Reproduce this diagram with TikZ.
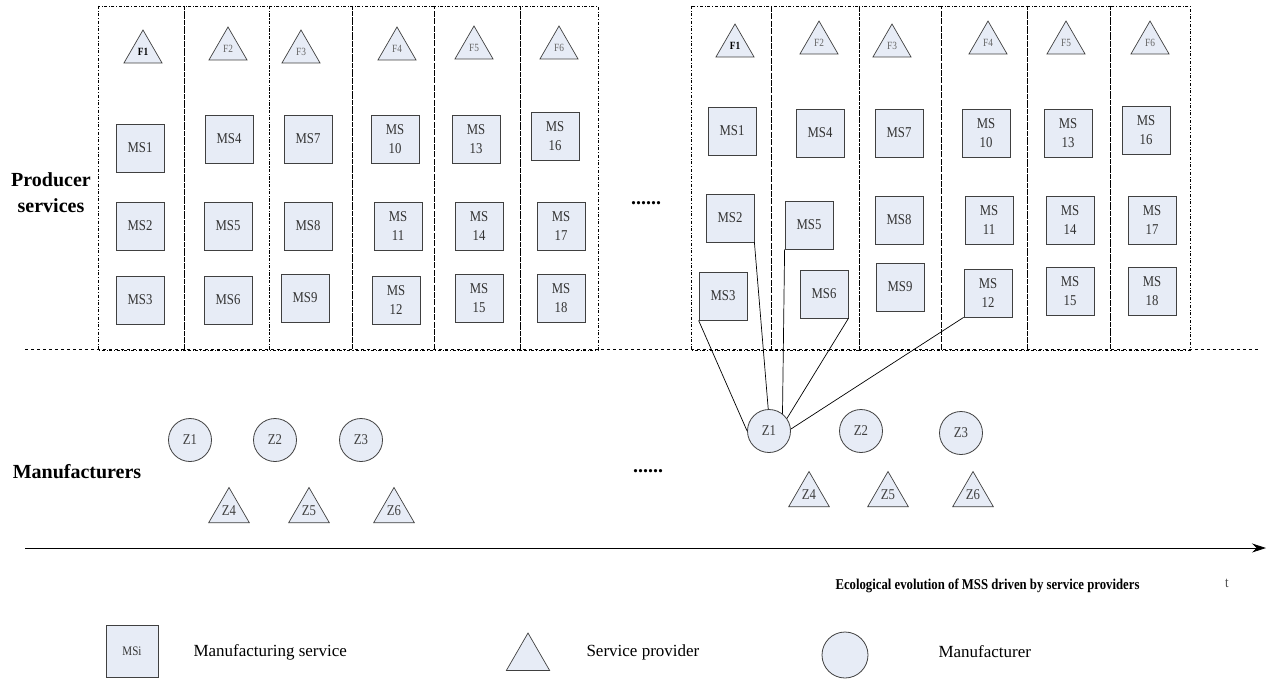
\documentclass[tikz,border=0pt]{standalone}
\usepackage{fontspec}
\setmainfont{Liberation Serif}
\newfontfamily\msfont[FakeStretch=0.85]{Liberation Serif}
\usetikzlibrary{positioning}
\usetikzlibrary{shapes.geometric}
\usetikzlibrary{arrows.meta}
\definecolor{svcfill}{RGB}{231,236,246}
\definecolor{svcdraw}{RGB}{64,64,64}
\tikzset{msbox/.style = {draw=svcdraw, fill=svcfill, line width=0.8pt, minimum size=48pt, inner sep=0pt, align=center, text=black!80, font=\msfont\fontsize{15}{19}\selectfont}}
\tikzset{prov/.style = {draw=svcdraw, fill=svcfill, line width=0.7pt, regular polygon, regular polygon sides=3, minimum size=44pt, inner sep=0pt, text=black!60, font=\msfont\fontsize{11}{12}\selectfont}}
\tikzset{zprov/.style = {prov, minimum size=47pt, text=black!75, font=\msfont\fontsize{15}{16}\selectfont}}
\tikzset{manu/.style = {draw=svcdraw, fill=svcfill, line width=0.8pt, circle, minimum size=43pt, inner sep=0pt, text=black!75, font=\msfont\fontsize{15}{16}\selectfont}}
\tikzset{colbox/.style = {dash dot, line width=0.6pt}}
\tikzset{sidelabel/.style = {align=center, font=\bfseries\fontsize{20}{26}\selectfont}}
\tikzset{legtext/.style = {anchor=west, font=\fontsize{17}{20}\selectfont}}

\begin{document}
\begin{tikzpicture}[x=1pt, y=-1pt]
  \useasboundingbox (0, 0) rectangle (1268, 682);

  \draw [colbox] (98, 6) rectangle (184, 350);
  \draw [colbox] (184, 6) rectangle (269, 350);
  \draw [colbox] (269, 6) rectangle (352, 350);
  \draw [colbox] (352, 6) rectangle (434, 350);
  \draw [colbox] (434, 6) rectangle (520, 350);
  \draw [colbox] (520, 6) rectangle (598, 350);

  \draw [colbox] (691, 6) rectangle (771, 350);
  \draw [colbox] (771, 6) rectangle (859, 350);
  \draw [colbox] (859, 6) rectangle (941, 350);
  \draw [colbox] (941, 6) rectangle (1027, 350);
  \draw [colbox] (1027, 6) rectangle (1110, 350);
  \draw [colbox] (1110, 6) rectangle (1190, 350);

  \draw [dashed, line width=0.6pt] (25, 349) -- (1258, 349);

  \node [sidelabel] (producer) at (51, 193) {Producer\\services};
  \node [sidelabel] (manufact) at (77, 472) {Manufacturers};

  % before
  \node [prov, text=black, font=\msfont\bfseries\fontsize{11}{12}\selectfont] (lf1) at (143, 52) {F1};
  \node [prov] (lf2) at (228, 49) {F2};
  \node [prov] (lf3) at (301, 52) {F3};
  \node [prov] (lf4) at (397, 49) {F4};
  \node [prov] (lf5) at (474, 48) {F5};
  \node [prov] (lf6) at (559, 48) {F6};

  \node [msbox] (lms1) at (140, 148) {MS1};
  \node [msbox] (lms2) at (140, 226) {MS2};
  \node [msbox] (lms3) at (140, 300) {MS3};
  \node [msbox] (lms4) at (229, 139) {MS4};
  \node [msbox] (lms5) at (228, 226) {MS5};
  \node [msbox] (lms6) at (228, 300) {MS6};
  \node [msbox] (lms7) at (308, 139) {MS7};
  \node [msbox] (lms8) at (308, 226) {MS8};
  \node [msbox] (lms9) at (305, 298) {MS9};
  \node [msbox] (lms10) at (395, 139) {MS\\10};
  \node [msbox] (lms11) at (398, 226) {MS\\11};
  \node [msbox] (lms12) at (396, 300) {MS\\12};
  \node [msbox] (lms13) at (476, 139) {MS\\13};
  \node [msbox] (lms14) at (479, 226) {MS\\14};
  \node [msbox] (lms15) at (479, 298) {MS\\15};
  \node [msbox] (lms16) at (555, 136) {MS\\16};
  \node [msbox] (lms17) at (561, 226) {MS\\17};
  \node [msbox] (lms18) at (561, 298) {MS\\18};

  \node [manu] (lz1) at (190, 440) {Z1};
  \node [manu] (lz2) at (275, 440) {Z2};
  \node [manu] (lz3) at (361, 440) {Z3};
  \node [zprov] (lz4) at (229, 511) {Z4};
  \node [zprov] (lz5) at (309, 511) {Z5};
  \node [zprov] (lz6) at (394, 511) {Z6};

  \node [font=\bfseries\fontsize{20}{20}\selectfont] (dotsup) at (646, 203) {......};
  \node [font=\bfseries\fontsize{20}{20}\selectfont] (dotsdown) at (648, 471) {......};

  % after
  \node [prov, text=black, font=\msfont\bfseries\fontsize{11}{12}\selectfont] (rf1) at (735, 46) {F1};
  \node [prov] (rf2) at (819, 43) {F2};
  \node [prov] (rf3) at (892, 46) {F3};
  \node [prov] (rf4) at (988, 43) {F4};
  \node [prov] (rf5) at (1066, 43) {F5};
  \node [prov] (rf6) at (1150, 43) {F6};

  \node [msbox] (rms1) at (732, 131) {MS1};
  \node [msbox] (rms2) at (730, 218) {MS2};
  \node [msbox] (rms3) at (723, 296) {MS3};
  \node [msbox] (rms4) at (820, 133) {MS4};
  \node [msbox] (rms5) at (809, 225) {MS5};
  \node [msbox] (rms6) at (824, 294) {MS6};
  \node [msbox] (rms7) at (899, 133) {MS7};
  \node [msbox] (rms8) at (899, 220) {MS8};
  \node [msbox] (rms9) at (900, 287) {MS9};
  \node [msbox] (rms10) at (986, 133) {MS\\10};
  \node [msbox] (rms11) at (989, 220) {MS\\11};
  \node [msbox] (rms12) at (988, 293) {MS\\12};
  \node [msbox] (rms13) at (1068, 133) {MS\\13};
  \node [msbox] (rms14) at (1070, 220) {MS\\14};
  \node [msbox] (rms15) at (1070, 291) {MS\\15};
  \node [msbox] (rms16) at (1146, 130) {MS\\16};
  \node [msbox] (rms17) at (1152, 220) {MS\\17};
  \node [msbox] (rms18) at (1152, 291) {MS\\18};

  \node [manu] (rz1) at (769, 431) {Z1};
  \node [manu] (rz2) at (861, 431) {Z2};
  \node [manu] (rz3) at (961, 433) {Z3};
  \node [zprov] (rz4) at (809, 495) {Z4};
  \node [zprov] (rz5) at (888, 495) {Z5};
  \node [zprov] (rz6) at (973, 495) {Z6};

  \draw [line width=0.7pt] (rms3.south west) -- (rz1.west);
  \draw [line width=0.7pt] (rms2.south east) -- (rz1.92);
  \draw [line width=0.7pt] (rms5.south west) -- (rz1.52);
  \draw [line width=0.7pt] (rms6.south east) -- (rz1.35);
  \draw [line width=0.7pt] (rms12.south west) -- (rz1.5);

  % time axis
  \coordinate (tstart) at (25, 548);
  \coordinate (tend) at (1266, 548);
  \draw [line width=0.8pt, -{Stealth[length=14pt, width=9pt]}] (tstart) -- (tend);
  \node [anchor=east, font=\msfont\bfseries\fontsize{15}{18}\selectfont] (evol) at (1143, 586) {Ecological evolution of MSS driven by service providers};
  \node [font=\msfont\fontsize{15}{18}\selectfont, text=black!70] (tlabel) at (1227, 583) {t};

  % legend
  \node [msbox, minimum size=52pt, font=\msfont\fontsize{13}{16}\selectfont] (legms) at (132, 651) {MSi};
  \node [legtext] (legmstext) at (190, 652) {Manufacturing service};
  \node [prov, minimum size=50pt] (legprov) at (528, 658) {};
  \node [legtext] (legprovtext) at (583, 652) {Service provider};
  \node [manu, minimum size=46pt] (legmanu) at (845, 655) {};
  \node [legtext] (legmanutext) at (935, 652) {Manufacturer};
\end{tikzpicture}
\end{document}
